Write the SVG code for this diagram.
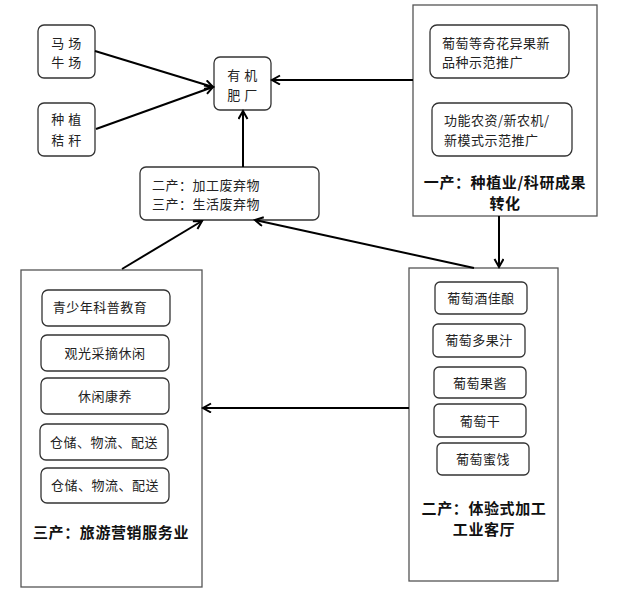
<svg xmlns="http://www.w3.org/2000/svg" width="640" height="593" viewBox="0 0 640 593">
<style>
  .box{fill:#fff;stroke:#333;stroke-width:1.3}
  .outer{fill:#fff;stroke:#555;stroke-width:1.3}
  .t{font-family:"Noto Sans CJK SC","Liberation Sans",sans-serif;font-size:13px;fill:#222;letter-spacing:0.5px}
  .b{font-family:"Noto Sans CJK SC","Liberation Sans",sans-serif;font-size:15px;font-weight:bold;fill:#111;letter-spacing:0.6px}
  .c{stroke:#000;stroke-width:2;fill:none;marker-end:url(#arr)}
</style>
<defs>
  <marker id="arr" markerUnits="userSpaceOnUse" markerWidth="12" markerHeight="12" refX="9" refY="5" orient="auto">
    <path d="M1,0.5 L9,5 L1,9.5" fill="none" stroke="#000" stroke-width="2"/>
  </marker>
</defs>
<rect width="640" height="593" fill="#fff"/>

<g id="n-mafarm">
  <rect class="box" x="38" y="25" width="57" height="53" rx="6"/>
  <text class="t" x="66.5" y="48" text-anchor="middle">马 场</text>
  <text class="t" x="66.5" y="67" text-anchor="middle">牛 场</text>
</g>
<g id="n-straw">
  <rect class="box" x="38" y="103" width="57" height="53" rx="6"/>
  <text class="t" x="66.5" y="124" text-anchor="middle">种 植</text>
  <text class="t" x="66.5" y="145" text-anchor="middle">秸 秆</text>
</g>
<g id="n-fert">
  <rect class="box" x="214" y="57" width="57" height="53" rx="6"/>
  <text class="t" x="242.5" y="80" text-anchor="middle">有 机</text>
  <text class="t" x="242.5" y="100" text-anchor="middle">肥 厂</text>
</g>
<g id="n-waste">
  <rect class="box" x="140" y="167" width="179" height="53" rx="6"/>
  <text class="t" x="152" y="190">二产：加工废弃物</text>
  <text class="t" x="152" y="209">三产：生活废弃物</text>
</g>

<g id="n-primary">
  <rect class="outer" x="413" y="5" width="184" height="211"/>
  <rect class="box" x="430" y="25" width="139" height="53" rx="7"/>
  <text class="t" x="442" y="48" letter-spacing="1.5">葡萄等奇花异果新</text>
  <text class="t" x="442" y="67">品种示范推广</text>
  <rect class="box" x="432" y="103" width="140" height="53" rx="7"/>
  <text class="t" x="444" y="125" letter-spacing="1.5">功能农资/新农机/</text>
  <text class="t" x="444" y="145">新模式示范推广</text>
  <text class="b" x="505" y="188" text-anchor="middle">一产：种植业/科研成果</text>
  <text class="b" x="505" y="209" text-anchor="middle">转化</text>
</g>

<g id="n-secondary">
  <rect class="outer" x="409" y="268" width="149" height="313"/>
  <rect class="box" x="435" y="282" width="92" height="32" rx="5"/>
  <text class="t" x="481" y="303" text-anchor="middle">葡萄酒佳酿</text>
  <rect class="box" x="433" y="324" width="92" height="33" rx="5"/>
  <text class="t" x="479" y="345" text-anchor="middle">葡萄多果汁</text>
  <rect class="box" x="434" y="367" width="92" height="31" rx="5"/>
  <text class="t" x="480" y="388" text-anchor="middle">葡萄果酱</text>
  <rect class="box" x="434" y="404" width="92" height="33" rx="5"/>
  <text class="t" x="480" y="426" text-anchor="middle">葡萄干</text>
  <rect class="box" x="437" y="443" width="92" height="32" rx="5"/>
  <text class="t" x="483" y="464" text-anchor="middle">葡萄蜜饯</text>
  <text class="b" x="484" y="514" text-anchor="middle">二产：体验式加工</text>
  <text class="b" x="484" y="535" text-anchor="middle">工业客厅</text>
</g>

<g id="n-tertiary">
  <rect class="outer" x="21" y="270" width="181" height="317"/>
  <rect class="box" x="42" y="290" width="128" height="36" rx="6"/>
  <text class="t" x="100" y="312" text-anchor="middle">青少年科普教育</text>
  <rect class="box" x="41" y="335" width="128" height="36" rx="6"/>
  <text class="t" x="105" y="358" text-anchor="middle">观光采摘休闲</text>
  <rect class="box" x="41" y="378" width="128" height="36" rx="6"/>
  <text class="t" x="105" y="401" text-anchor="middle">休闲康养</text>
  <rect class="box" x="40" y="424" width="128" height="36" rx="6"/>
  <text class="t" x="104" y="447" text-anchor="middle">仓储、物流、配送</text>
  <rect class="box" x="41" y="468" width="128" height="35" rx="6"/>
  <text class="t" x="105" y="490" text-anchor="middle">仓储、物流、配送</text>
  <text class="b" x="111" y="538" text-anchor="middle">三产：旅游营销服务业</text>
</g>

<g id="connectors">
  <line class="c" x1="95" y1="51" x2="213" y2="87"/>
  <line class="c" x1="96" y1="129" x2="213" y2="87"/>
  <line class="c" x1="413" y1="80" x2="272" y2="80"/>
  <line class="c" x1="243" y1="167" x2="243" y2="111"/>
  <line class="c" x1="499" y1="216" x2="499" y2="267"/>
  <line class="c" x1="474" y1="268" x2="255" y2="220"/>
  <line class="c" x1="122" y1="269" x2="202" y2="221"/>
  <line class="c" x1="409" y1="408" x2="203" y2="408"/>
</g>
</svg>
